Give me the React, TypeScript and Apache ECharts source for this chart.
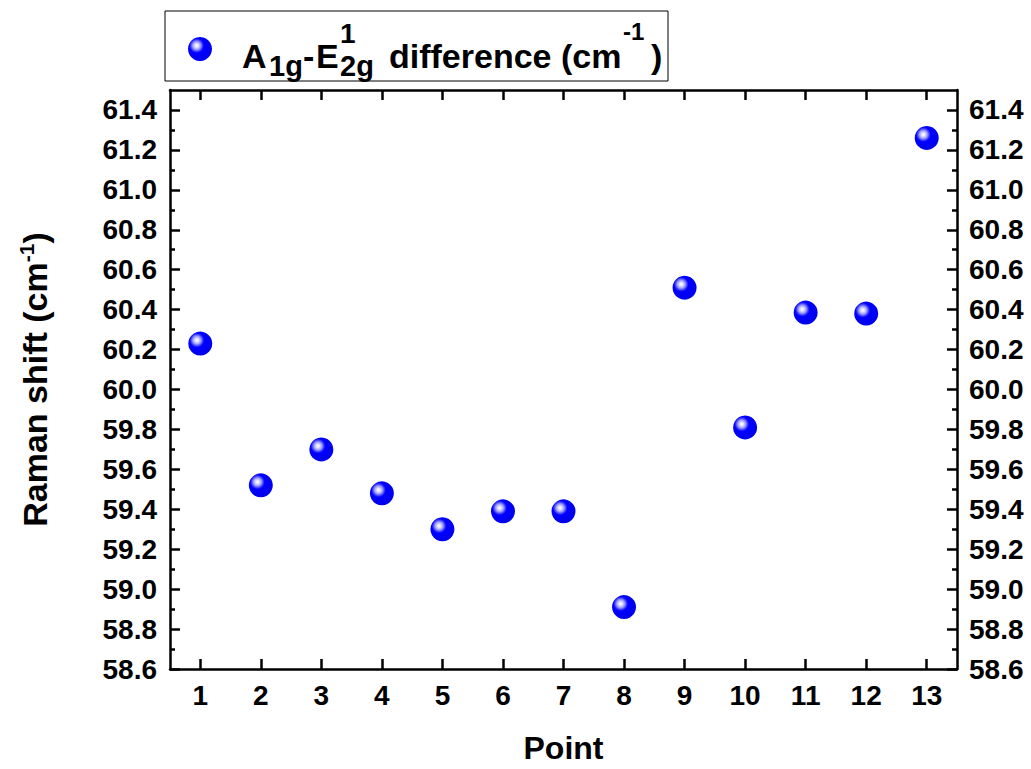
import React, { useEffect, useRef } from "react";
import * as echarts from "echarts";

const points = ["1", "2", "3", "4", "5", "6", "7", "8", "9", "10", "11", "12", "13"];
const shifts = [60.23, 59.52, 59.7, 59.48, 59.3, 59.39, 59.39, 58.91, 60.51, 59.81, 60.385, 60.38, 61.26];
const yMajorTicks = [58.6, 58.8, 59.0, 59.2, 59.4, 59.6, 59.8, 60.0, 60.2, 60.4, 60.6, 60.8, 61.0, 61.2, 61.4];
const yMinorTicks = [58.7, 58.9, 59.1, 59.3, 59.5, 59.7, 59.9, 60.1, 60.3, 60.5, 60.7, 60.9, 61.1, 61.3];
const yMin = 58.6;
const yMax = 61.5;

const FONT = '"Liberation Sans", Arial, Helvetica, sans-serif';

const ballGradient = () => ({
  type: "radial",
  x: 0.36,
  y: 0.36,
  r: 0.55,
  colorStops: [
    { offset: 0, color: "#ffffff" },
    { offset: 0.12, color: "#e6e6ff" },
    { offset: 0.3, color: "#9c9cff" },
    { offset: 0.45, color: "#3a3aff" },
    { offset: 0.55, color: "#0000ff" },
    { offset: 1, color: "#0000f0" },
  ],
});

const axisLineStyle = { color: "#000", width: 2.5 };

function makeYAxis(position: "left" | "right", minor: boolean, withName: boolean) {
  const base: any = {
    type: "value",
    position,
    min: yMin,
    max: yMax,
    splitLine: { show: false },
    axisLine: { show: !minor, onZero: false, lineStyle: axisLineStyle },
    axisTick: {
      show: true,
      inside: true,
      length: minor ? 5 : 10,
      customValues: minor ? yMinorTicks : yMajorTicks,
      lineStyle: { color: "#000", width: 2.5 },
    },
    axisLabel: minor
      ? { show: false }
      : {
          show: true,
          customValues: yMajorTicks,
          formatter: (v: number) => v.toFixed(1),
          fontSize: 28,
          fontWeight: "bold",
          fontFamily: FONT,
          color: "#000",
          margin: position === "left" ? 13 : 12,
        },
  };
  if (withName) {
    base.name = "Raman shift (cm{sup|-1})";
    base.nameLocation = "middle";
    base.nameGap = 116;
    base.nameRotate = 90;
    base.nameTextStyle = {
      fontSize: 34,
      fontWeight: "bold",
      fontFamily: FONT,
      color: "#000",
      lineHeight: 38,
      rich: {
        sup: {
          fontSize: 21,
          fontWeight: "bold",
          fontFamily: FONT,
          color: "#000",
          lineHeight: 21,
          verticalAlign: "top",
        },
      },
    };
  }
  return base;
}

export default function App() {
  const ref = useRef<HTMLDivElement>(null);

  useEffect(() => {
    if (!ref.current) return;
    const chart = echarts.init(ref.current, null, { renderer: "svg" });

    const legendFont = (size: number) => `bold ${size}px ${FONT}`;
    const t = (text: string, x: number, y: number, size: number) => ({
      type: "text",
      x,
      y,
      silent: true,
      style: {
        text,
        font: legendFont(size),
        fill: "#000",
        textAlign: "left",
        textVerticalAlign: "middle",
      },
    });

    const option: any = {
      animation: false,
      backgroundColor: "#fff",
      grid: { left: 170, right: 74, top: 90, bottom: 96, containLabel: false },
      xAxis: [
        {
          type: "category",
          position: "bottom",
          data: points,
          boundaryGap: true,
          axisLine: { show: true, onZero: false, lineStyle: axisLineStyle },
          axisTick: {
            show: true,
            inside: true,
            alignWithLabel: true,
            length: 10,
            lineStyle: { color: "#000", width: 2.5 },
          },
          axisLabel: {
            fontSize: 28,
            fontWeight: "bold",
            fontFamily: FONT,
            color: "#000",
            margin: 12,
          },
          splitLine: { show: false },
          name: "Point",
          nameLocation: "middle",
          nameGap: 63,
          nameTextStyle: {
            fontSize: 32,
            fontWeight: "bold",
            fontFamily: FONT,
            color: "#000",
          },
        },
        {
          type: "category",
          position: "top",
          data: points,
          boundaryGap: true,
          axisLine: { show: true, onZero: false, lineStyle: axisLineStyle },
          axisTick: {
            show: true,
            inside: true,
            alignWithLabel: true,
            length: 10,
            lineStyle: { color: "#000", width: 2.5 },
          },
          axisLabel: { show: false },
          splitLine: { show: false },
        },
      ],
      yAxis: [
        makeYAxis("left", false, true),
        makeYAxis("right", false, false),
        makeYAxis("left", true, false),
        makeYAxis("right", true, false),
      ],
      series: [
        {
          type: "scatter",
          xAxisIndex: 0,
          yAxisIndex: 0,
          data: shifts,
          symbol: "circle",
          symbolSize: 24,
          itemStyle: { color: ballGradient(), opacity: 1 },
          emphasis: { disabled: true },
        },
      ],
      graphic: [
        {
          type: "rect",
          silent: true,
          shape: { x: 165, y: 11, width: 503, height: 70 },
          style: { fill: "#fff", stroke: "#000", lineWidth: 1 },
        },
        {
          type: "circle",
          silent: true,
          shape: { cx: 200, cy: 49, r: 12 },
          style: { fill: ballGradient() },
        },
        t("A", 242, 56, 34),
        t("1g", 269, 66, 29),
        t("-", 303, 56, 34),
        t("E", 316, 56, 34),
        t("1", 340, 33, 28),
        t("2g", 340, 66, 29),
        t("difference (cm", 389, 56, 34),
        t("-1", 623, 31, 24),
        t(")", 651, 56, 34),
      ],
    };

    chart.setOption(option);
    return () => chart.dispose();
  }, []);

  return (
    <div
      ref={ref}
      style={{ position: "fixed", left: 0, top: 0, width: 1031, height: 769, background: "#fff" }}
    />
  );
}
